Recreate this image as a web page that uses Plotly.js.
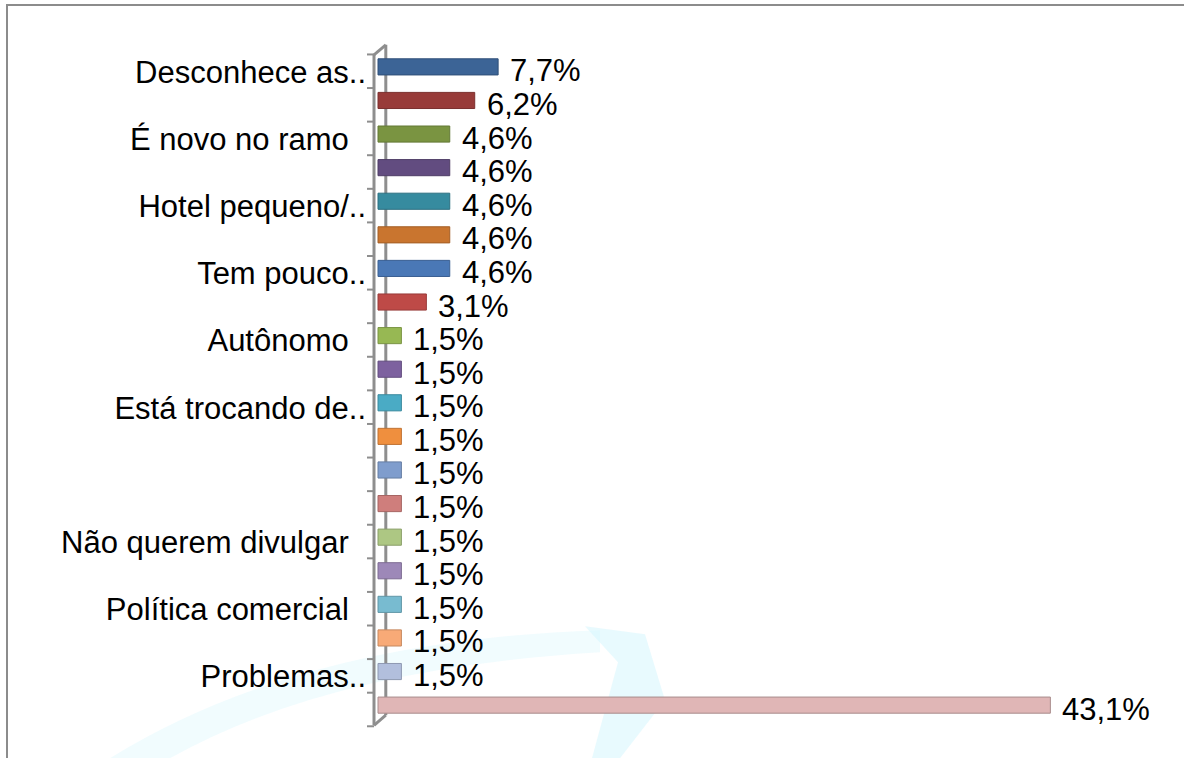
<!DOCTYPE html>
<html>
<head>
<meta charset="utf-8">
<script src="https://cdn.plot.ly/plotly-3.0.1.min.js"></script>
<style>html,body{margin:0;padding:0;background:#fff;}#chart{width:1184px;height:758px;}</style>
</head>
<body>
<div id="chart"></div>
<script>
// ---- data ----
const labels = ["Desconhece as..", "", "É novo no ramo\u00A0\u00A0", "", "Hotel pequeno/..", "", "Tem pouco..", "",
  "Autônomo\u00A0\u00A0", "", "Está trocando de..", "", "", "", "Não querem divulgar\u00A0\u00A0", "",
  "Política comercial\u00A0\u00A0", "", "Problemas..", ""];
const values = [7.7, 6.2, 4.6, 4.6, 4.6, 4.6, 4.6, 3.1, 1.5, 1.5, 1.5, 1.5, 1.5, 1.5, 1.5, 1.5, 1.5, 1.5, 1.5, 43.1];
const colors = ["#3C6496", "#983B39", "#7A9441", "#624C80", "#368B9F", "#C9752F", "#4A78B6", "#BE4A47",
  "#97B853", "#7D619F", "#4AABC5", "#EF8F3E", "#7F9DCD", "#CF7E7C", "#ADC783", "#9D88B8", "#78BBD0",
  "#F8AA77", "#B2BFDD", "#E0B6B6"];
const edgeColors = ["#2F4F78", "#7A2F2E", "#627834", "#4F3D66", "#2B6F80", "#A35E26", "#3B6092", "#983B39",
  "#7A9443", "#644E80", "#3B8A9E", "#C07333", "#667EA4", "#A66563", "#8A9F68", "#7E6D93", "#6096A6",
  "#C6885F", "#8E99B1", "#A88C8C"];

const idx = values.map((v, i) => i);
const fmt = v => v.toFixed(1).replace('.', ',') + '%';

// geometry helpers (decoration only)
const L = 367, W = 780, T = 40.1, H = 691.7;
const px = x => (x - L) / W, py = y => (T + H - y) / H;

const font = {family: "'Liberation Sans', Arial, sans-serif", size: 31, color: '#000'};

const trace = {
  type: 'bar', orientation: 'h', x: values, y: idx,
  width: 0.48,
  marker: {color: colors, line: {color: edgeColors, width: 1}},
  hoverinfo: 'none'
};

const shapes = [];
// background watermark swooshes
shapes.push({type: 'path', xref: 'paper', yref: 'paper', layer: 'below', line: {width: 0},
  fillcolor: 'rgba(215,246,252,0.35)',
  path: `M ${px(110)} ${py(758)} Q ${px(300)} ${py(640)} ${px(600)} ${py(630)} L ${px(600)} ${py(652)} Q ${px(330)} ${py(668)} ${px(170)} ${py(758)} Z`});
shapes.push({type: 'path', xref: 'paper', yref: 'paper', layer: 'below', line: {width: 0},
  fillcolor: 'rgba(210,246,253,0.5)',
  path: `M ${px(585)} ${py(626)} L ${px(645)} ${py(634)} L ${px(665)} ${py(700)} L ${px(620)} ${py(758)} L ${px(592)} ${py(758)} L ${px(618)} ${py(662)} Z`});
// outer frame
shapes.push({type: 'rect', xref: 'paper', yref: 'paper', x0: px(7), x1: 1.2, y0: -0.2, y1: py(5),
  line: {color: '#8C8C8C', width: 2}, layer: 'below'});
// 3D wall (axis)
const wallGray = '#8E8E8E';
shapes.push({type: 'line', xref: 'x', yref: 'y', layer: 'below', x0: 0.5, x1: 0.5, y0: -0.655, y1: 19.3,
  line: {color: wallGray, width: 3}});
shapes.push({type: 'line', xref: 'x', yref: 'y', x0: -0.256, x1: -0.256, y0: -0.357, y1: 19.6,
  line: {color: wallGray, width: 3}});
shapes.push({type: 'line', xref: 'x', yref: 'y', x0: -0.256, x1: 0.5, y0: -0.357, y1: -0.655,
  line: {color: wallGray, width: 3}});
shapes.push({type: 'line', xref: 'x', yref: 'y', x0: -0.256, x1: 0.5, y0: 19.6, y1: 19.3,
  line: {color: wallGray, width: 3}});
for (let k = 0; k <= values.length; k++) {
  shapes.push({type: 'line', xref: 'x', yref: 'y', x0: -0.8, x1: -0.256, y0: k - 0.37, y1: k - 0.37,
    line: {color: wallGray, width: 2}});
}

const annotations = values.map((v, i) => ({
  x: v, y: i, xref: 'x', yref: 'y', text: fmt(v), showarrow: false,
  xanchor: 'left', yanchor: 'middle', xshift: 10, yshift: -4, font: font
}));

const layout = {
  width: 1184, height: 758,
  margin: {l: L, r: 1184 - L - W, t: T, b: 758 - T - H, pad: 0},
  paper_bgcolor: '#fff', plot_bgcolor: 'rgba(0,0,0,0)',
  showlegend: false,
  bargap: 0,
  xaxis: {range: [-(378 - L) / 15.6, -(378 - L) / 15.6 + W / 15.6], showgrid: false, zeroline: false,
    showticklabels: false, showline: false, ticks: ''},
  yaxis: {range: [19.8, -0.8], tickmode: 'array', tickvals: idx, ticktext: labels,
    showgrid: false, zeroline: false, showline: false, ticks: '', ticklabelstandoff: 0,
    ticklabelshift: -5, tickfont: font},
  shapes: shapes,
  annotations: annotations
};

Plotly.newPlot('chart', [trace], layout, {displayModeBar: false, staticPlot: true});
</script>
</body>
</html>
